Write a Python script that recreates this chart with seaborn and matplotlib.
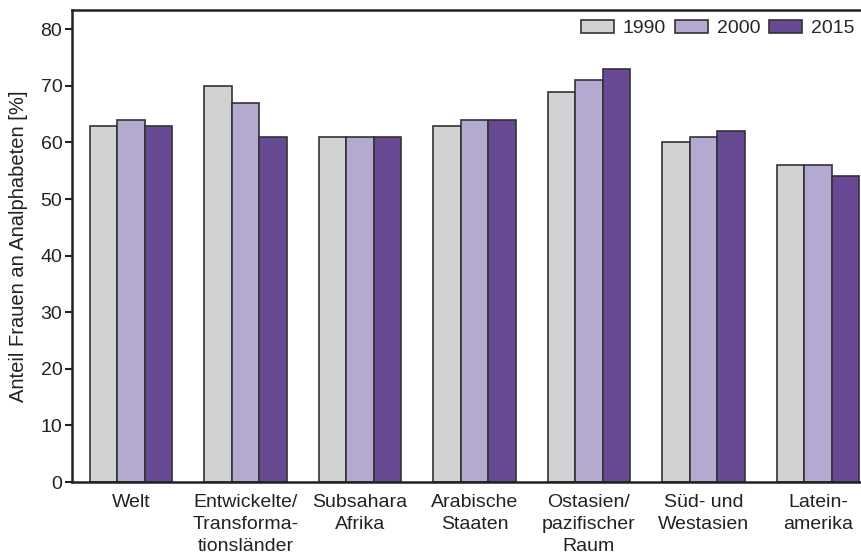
import pandas as pd
import matplotlib.pyplot as plt
import seaborn as sns

# Data
regions = ["Welt", "Entwickelte/\nTransforma-\ntionsländer", "Subsahara\nAfrika",
           "Arabische\nStaaten", "Ostasien/\npazifischer\nRaum", "Süd- und\nWestasien",
           "Latein-\namerika"]
years = ["1990", "2000", "2015"]
v1990 = [63, 70, 61, 63, 69, 60, 56]
v2000 = [64, 67, 61, 64, 71, 61, 56]
v2015 = [63, 61, 61, 64, 73, 62, 54]

df = pd.DataFrame({
    "region": regions * 3,
    "year": [y for y in years for _ in regions],
    "value": v1990 + v2000 + v2015,
})

sns.set_style("white")
plt.rcParams["font.family"] = ["Liberation Sans", "DejaVu Sans"]

colors = ["#d1d2d4", "#b4a9ce", "#674a93"]

fig = plt.figure(figsize=(8.62, 5.59), dpi=100)
ax = fig.add_axes([0.0835, 0.1377, 0.9165, 0.8443])

sns.barplot(
    data=df, x="region", y="value", hue="year",
    palette=colors, width=0.72, edgecolor="#333333", linewidth=1.2,
    saturation=1, ax=ax,
)

ax.set_xlim(-0.515, 6.385)
ax.set_ylim(0, 83.4)
ax.set_yticks(range(0, 81, 10))
ax.set_xlabel("")
ax.set_ylabel("Anteil Frauen an Analphabeten [%]", fontsize=14.5, color="#222222",
              labelpad=9)
ax.tick_params(axis="y", length=5, width=1.5, color="#222222", labelsize=14,
               labelcolor="#222222", pad=2, left=True)
ax.tick_params(axis="x", length=0, labelsize=14, labelcolor="#222222", pad=8.5)
for lab in ax.get_xticklabels():
    lab.set_linespacing(1.4)
ax.spines["right"].set_visible(False)
for s in ["left", "top", "bottom"]:
    ax.spines[s].set_linewidth(1.8)
    ax.spines[s].set_color("#222222")

leg = ax.legend(loc="center right", bbox_to_anchor=(1.0, 0.961), ncol=3, frameon=False,
                fontsize=14, handlelength=1.7, handleheight=0.7, handletextpad=0.45,
                columnspacing=0.45, borderaxespad=0.0)

fig.savefig("out.png", dpi=100)
